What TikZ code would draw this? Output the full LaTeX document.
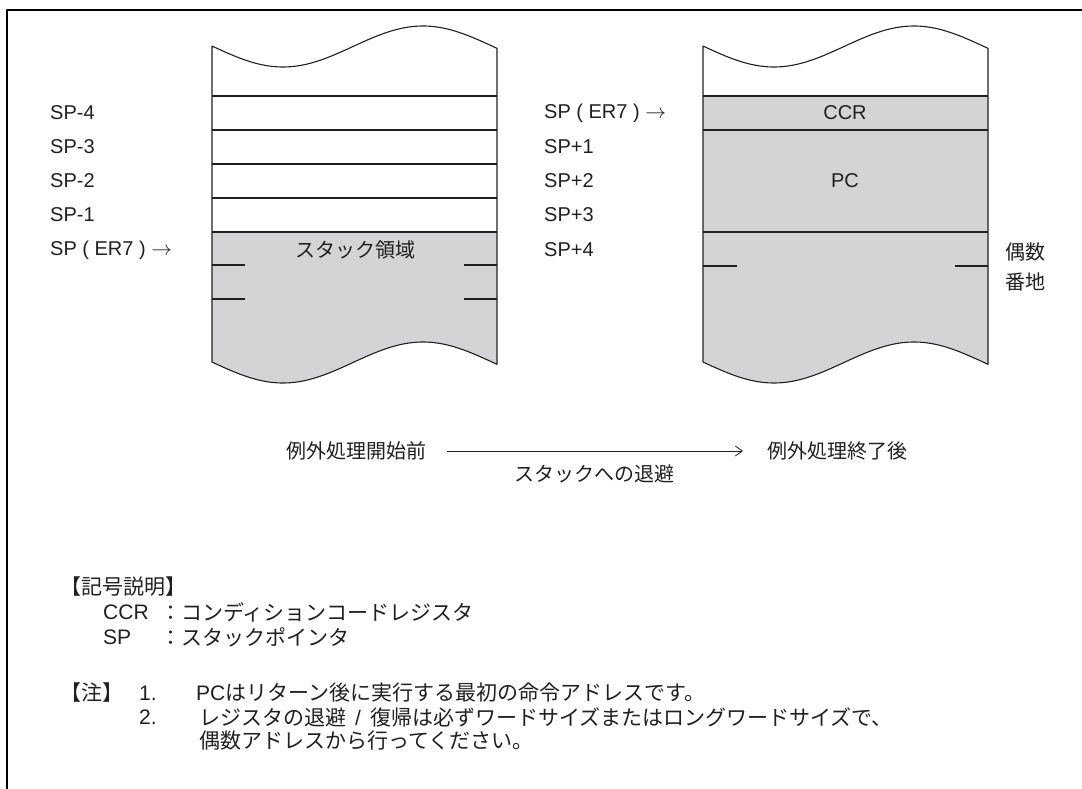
\documentclass[tikz,border=0pt]{standalone}
\usepackage{fontspec}
\setmainfont{Liberation Sans}
\newfontfamily\jp{Noto Sans CJK JP}
\usetikzlibrary{arrows.meta}
\definecolor{ink}{RGB}{35,31,32}
\definecolor{stackgray}{RGB}{212,212,214}
\newcommand\mystackoutline{%
  \draw[stackline] plot[domain=212:497,samples=80] (\x,{46.5+20.5*cos((\x-283)*1.285714)})
    -- plot[domain=497:212,samples=80] (\x,{362.5+20.5*cos((\x-283)*1.285714)}) -- cycle;}
\begin{document}
\begin{tikzpicture}[x=1pt,y=-1pt,line join=round,
  lbl/.style={inner sep=0pt,anchor=west,text=ink,font=\fontsize{20}{24}\selectfont},
  jlbl/.style={inner sep=0pt,text=ink,font=\jp\fontsize{20}{24}\selectfont},
  leg/.style={inner sep=0pt,anchor=west,text=ink,font=\fontsize{21}{25}\selectfont},
  jleg/.style={inner sep=0pt,anchor=west,text=ink,font=\jp\fontsize{21}{25}\selectfont},
  stackline/.style={draw=ink,line width=1.1pt},
  tick/.style={draw=ink,line width=1.1pt}]
\useasboundingbox (0,0) rectangle (1082,789);
% frame
\draw[line width=2pt] (7,789) -- (7,10) -- (1082,10);

% ---------- left stack ----------
\fill[stackgray] (212,232) -- (212,362)
  -- plot[domain=212:497,samples=80] (\x,{362.5+20.5*cos((\x-283)*1.285714)})
  -- (497,232) -- cycle;
\mystackoutline
\foreach \yy in {96,130,164,198,232} \draw[stackline] (212,\yy) -- (497,\yy);
\foreach \yy in {265,299} {
  \draw[tick] (212,\yy) -- (245,\yy);
  \draw[tick] (464,\yy) -- (497,\yy);}

% ---------- right stack ----------
\begin{scope}[xshift=491pt]
\fill[stackgray] (212,96) -- (212,362)
  -- plot[domain=212:497,samples=80] (\x,{362.5+20.5*cos((\x-283)*1.285714)})
  -- (497,96) -- cycle;
\mystackoutline
\foreach \yy in {96,130,232} \draw[stackline] (212,\yy) -- (497,\yy);
\draw[tick] (212,266) -- (246,266);
\draw[tick] (464,266) -- (497,266);
\end{scope}

% ---------- labels left ----------
\node[lbl] (lm4) at (50,113) {SP-4};
\node[lbl] (lm3) at (50,147) {SP-3};
\node[lbl] (lm2) at (50,181) {SP-2};
\node[lbl] (lm1) at (50,215) {SP-1};
\node[lbl] (lsp) at (50,250) {SP ( ER7 ) $\rightarrow$};
\node[jlbl] (area) at (355,250) {スタック領域};

% ---------- labels right ----------
\node[lbl] (rsp) at (544,113) {SP ( ER7 ) $\rightarrow$};
\node[lbl] (rp1) at (544,147) {SP+1};
\node[lbl] (rp2) at (544,181) {SP+2};
\node[lbl] (rp3) at (544,215) {SP+3};
\node[lbl] (rp4) at (544,250) {SP+4};
\node[inner sep=0pt,text=ink,font=\fontsize{20}{24}\selectfont] (ccr) at (845,113) {CCR};
\node[inner sep=0pt,text=ink,font=\fontsize{20}{24}\selectfont] (pc) at (845,181) {PC};
\node[jlbl,anchor=west] (even1) at (1005,252) {偶数};
\node[jlbl,anchor=west] (even2) at (1005,282) {番地};

% ---------- transition ----------
\node[jlbl,anchor=east] (before) at (427,451) {例外処理開始前};
\node[jlbl,anchor=west] (after) at (767,451) {例外処理終了後};
\draw[ink,line width=0.8pt,-{Straight Barb[length=7pt,width=10pt,line width=0.8pt]}]
  ([xshift=20pt]before.east) -- ([xshift=-24pt]after.west);
\node[jlbl] (save) at (594,474) {スタックへの退避};

% ---------- legend ----------
\node[jleg] (leghead) at (60,587) {【記号説明】};
\node[leg] (ccrk) at (103,612) {CCR};
\node[jleg] (ccrv) at (160,612) {：コンディションコードレジスタ};
\node[leg] (spk) at (103,637) {SP};
\node[jleg] (spv) at (160,637) {：スタックポインタ};

\node[jleg] (notehead) at (60,693) {【注】};
\node[leg] (n1) at (139,693) {1.};
\node[jleg] (n1t) at (196,693) {{\fontspec{Liberation Sans}\fontsize{21}{25}\selectfont PC}はリターン後に実行する最初の命令アドレスです。};
\node[leg] (n2) at (139,717) {2.};
\node[jleg] (n2t) at (199,717) {レジスタの退避\hspace{9pt}{\fontspec{Liberation Sans}/}\hspace{9pt}復帰は必ずワードサイズまたはロングワードサイズで、};
\node[jleg] (n2u) at (199,741) {偶数アドレスから行ってください。};
\end{tikzpicture}
\end{document}
